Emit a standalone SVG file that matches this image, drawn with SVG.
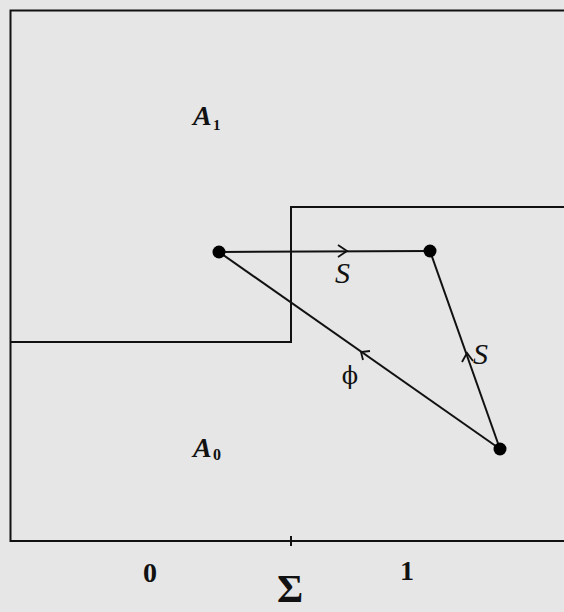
<svg xmlns="http://www.w3.org/2000/svg" width="564" height="612" viewBox="0 0 564 612">
<style>
.ln{fill:none;stroke:#111;stroke-width:2}
.ar{fill:none;stroke:#111;stroke-width:1.8}
.t{font-family:"Liberation Serif",serif;fill:#111}
.it{font-style:italic}
</style>
<rect width="564" height="612" fill="#e6e6e6"/>
<g id="frame">
<path class="ln" d="M564,10.5 H10.5 V541 H564"/>
<line class="ln" x1="291" y1="536" x2="291" y2="546"/>
</g>
<g id="boundary">
<path class="ln" d="M10.5,342 H291 V207 H564"/>
</g>
<g id="labels">
<text class="t it" x="193" y="125" font-size="28" font-weight="bold">A</text>
<text class="t" x="213" y="130" font-size="15" font-weight="bold">1</text>
<text class="t it" x="193" y="457" font-size="28" font-weight="bold">A</text>
<text class="t" x="213" y="460" font-size="16" font-weight="bold">0</text>
<text class="t" x="150" y="582" font-size="28" text-anchor="middle" font-weight="bold">0</text>
<text class="t" x="407" y="580" font-size="28" text-anchor="middle" font-weight="bold">1</text>
<text class="t" x="290" y="602" font-size="40" text-anchor="middle" font-weight="bold">Σ</text>
</g>
<g id="connectors">
<line class="ln" x1="219" y1="252" x2="430" y2="251"/>
<line class="ln" x1="430" y1="251" x2="500" y2="449"/>
<line class="ln" x1="500" y1="449" x2="219" y2="252"/>
<path class="ar" d="M338,245 L347,251 L338,257"/>
<path class="ar" d="M462,362 L467,353 L473,361"/>
<path class="ar" d="M363,360 L361,352 L370,351"/>
<text class="t it" x="335" y="283" font-size="30">S</text>
<text class="t it" x="473" y="364" font-size="30">S</text>
<text x="350" y="384" font-size="24" text-anchor="middle" font-family="'DejaVu Serif',serif" fill="#111">ϕ</text>
</g>
<g id="nodes">
<circle id="n1" cx="219" cy="252" r="6.5" fill="#000"/>
<circle id="n2" cx="430" cy="251" r="6.5" fill="#000"/>
<circle id="n3" cx="500" cy="449" r="6.5" fill="#000"/>
</g>
</svg>
